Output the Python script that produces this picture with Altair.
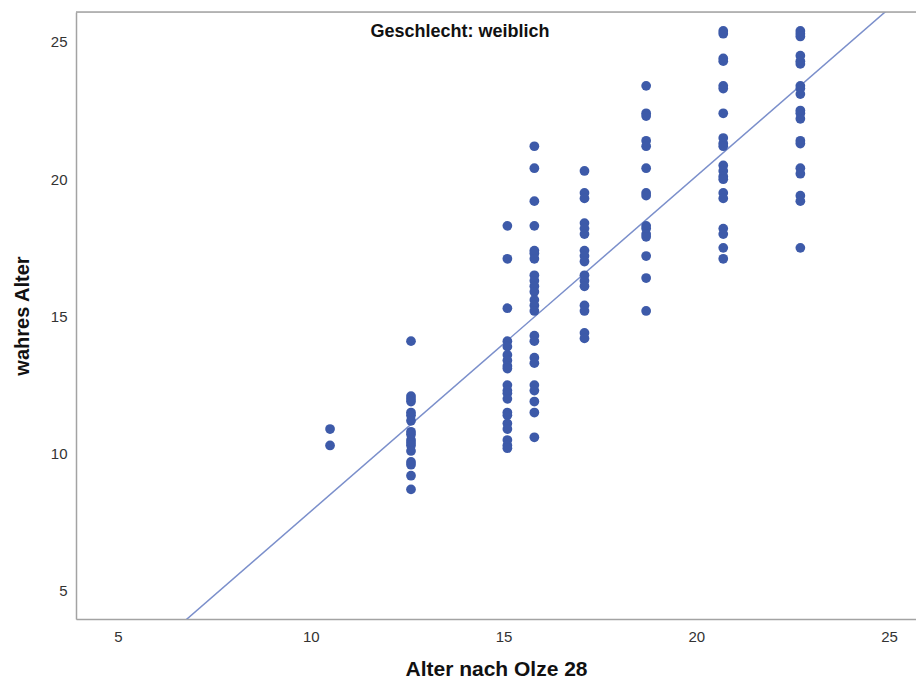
import altair as alt
import pandas as pd

# Olze stage ages (x) and observed true ages (y) per column
col_10_5 = [10.9, 10.3]
col_12_6 = [14.1, 12.1, 12.0, 11.9, 11.5, 11.4, 11.2, 10.8, 10.7, 10.5, 10.4, 10.3, 10.1, 9.7, 9.6, 9.2, 8.7]
col_15_1 = [18.3, 17.1, 15.3, 14.1, 13.9, 13.6, 13.4, 13.2, 13.1, 12.5, 12.3, 12.2, 12.0, 11.5, 11.4, 11.1, 10.9, 10.5, 10.3, 10.2]
col_15_8 = [21.2, 20.4, 19.2, 18.3, 17.4, 17.3, 17.1, 16.5, 16.3, 16.1, 15.9, 15.6, 15.4, 15.2, 14.3, 14.1, 13.5, 13.3, 12.5, 12.3, 11.9, 11.5, 10.6]
col_17_1 = [20.3, 19.5, 19.3, 18.4, 18.2, 18.0, 17.4, 17.2, 17.0, 16.5, 16.3, 16.1, 15.4, 15.2, 14.4, 14.2]
col_18_7 = [23.4, 22.4, 22.3, 21.4, 21.2, 20.4, 19.5, 19.4, 18.3, 18.2, 18.0, 17.9, 17.2, 16.4, 15.2]
col_20_7 = [25.4, 25.3, 24.4, 24.3, 23.4, 23.3, 22.4, 21.5, 21.3, 21.2, 20.5, 20.3, 20.1, 20.0, 19.5, 19.3, 18.2, 18.0, 17.5, 17.1]
col_22_7 = [25.4, 25.3, 25.2, 24.5, 24.3, 24.2, 23.4, 23.3, 23.1, 22.5, 22.4, 22.2, 21.4, 21.3, 20.4, 20.2, 19.4, 19.2, 17.5]

stage_x = [10.5, 12.6, 15.1, 15.8, 17.1, 18.7, 20.7, 22.7]
columns = [col_10_5, col_12_6, col_15_1, col_15_8, col_17_1, col_18_7, col_20_7, col_22_7]

# fit line
fit_intercept = -4.31
fit_slope = 1.221

x_domain = [3.91, 25.70]
y_domain = [3.98, 26.09]
x_ticks = [5, 10, 15, 20, 25]
y_ticks = [5, 10, 15, 20, 25]

rows = []
for xv, ys in zip(stage_x, columns):
    for yv in ys:
        rows.append({"olze": xv, "alter": yv})
df = pd.DataFrame(rows)

line_df = pd.DataFrame({"olze": x_domain,
                        "alter": [fit_intercept + fit_slope * v for v in x_domain]})

FONT = "Liberation Sans"
GRAY = "#a3a3a3"
W, H = 840, 607

xs = alt.Scale(domain=x_domain, nice=False, zero=False)
ys = alt.Scale(domain=y_domain, nice=False, zero=False)

x_axis = alt.Axis(values=x_ticks, ticks=False, grid=False, domainColor=GRAY, domainWidth=1.5,
                  labelFont=FONT, labelFontSize=15, labelColor="#333333", labelPadding=10,
                  title="Alter nach Olze 28", titleFont=FONT, titleFontSize=21,
                  titleFontWeight="bold", titleColor="#111111",
                  titleBaseline="alphabetic", titleY=56)
y_axis = alt.Axis(values=y_ticks, ticks=False, grid=False, domainColor=GRAY, domainWidth=1.5,
                  labelFont=FONT, labelFontSize=15, labelColor="#333333", labelPadding=9,
                  title="wahres Alter", titleFont=FONT, titleFontSize=20,
                  titleFontWeight="bold", titleColor="#111111", titlePadding=18)

points = alt.Chart(df).mark_circle(size=95, opacity=1, color="#3D5AA9").encode(
    x=alt.X("olze:Q", scale=xs, axis=x_axis),
    y=alt.Y("alter:Q", scale=ys, axis=y_axis),
)

fit = alt.Chart(line_df).mark_line(color="#7B8FCB", strokeWidth=1.5, clip=True).encode(
    x=alt.X("olze:Q", scale=xs),
    y=alt.Y("alter:Q", scale=ys),
)

top_rule = alt.Chart(pd.DataFrame({"v": [y_domain[1]]})).mark_rule(
    color=GRAY, strokeWidth=1.5).encode(
    y=alt.Y("v:Q", scale=ys),
    x=alt.value(0), x2=alt.value(W),
)

title_txt = alt.Chart(pd.DataFrame({"t": ["Geschlecht: weiblich"]})).mark_text(
    font=FONT, fontSize=18, fontWeight="bold", color="#111111", align="center", baseline="middle"
).encode(text="t:N", x=alt.value(384), y=alt.value(20))

chart = alt.layer(fit, points, top_rule, title_txt).properties(
    width=W, height=H,
    autosize=alt.AutoSizeParams(type="none"),
    padding={"left": 68, "top": 4, "right": 0, "bottom": 61},
).configure_view(stroke=None).configure(background="white")

chart.save("out.html", embed_options={"renderer": "svg", "actions": False})
